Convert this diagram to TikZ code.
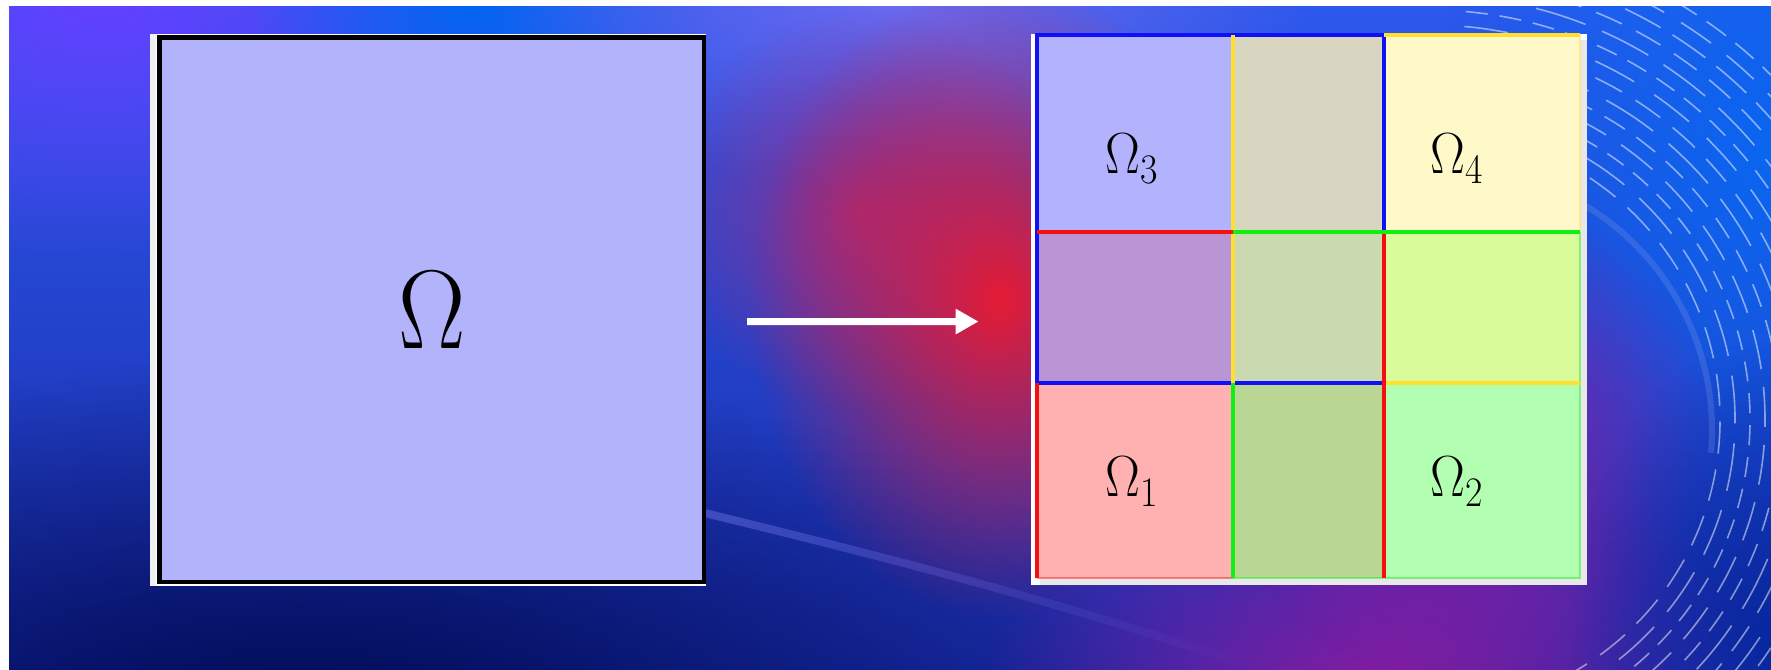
\documentclass[tikz,border=0pt]{standalone}
\usepackage{fontspec}
\usepackage{graphicx, xcolor, tikz}
\usetikzlibrary{arrows.meta,fadings}
\definecolor{bgtop}{HTML}{2C58EC}
\definecolor{bgbot}{HTML}{1A2CA8}
\definecolor{navyglow}{HTML}{000A52}
\definecolor{violetglow}{HTML}{6440FF}
\definecolor{skyglow}{HTML}{0066F2}
\definecolor{lavglow}{HTML}{6C6AF0}
\definecolor{redglow}{HTML}{E41B35}
\definecolor{plumglow}{HTML}{90308C}
\definecolor{purpleglow}{HTML}{8B1CA2}
\definecolor{rightglow}{HTML}{0A66F0}
\definecolor{deepglow}{HTML}{0828A0}
\definecolor{swoosh}{HTML}{8A8CFF}
\definecolor{rimglow}{HTML}{8A9AE8}
\definecolor{domfill}{HTML}{B3B3FC}
\definecolor{cellthree}{HTML}{B3B3FD}
\definecolor{cellthreefour}{HTML}{D8D6C0}
\definecolor{cellfour}{HTML}{FFF8C8}
\definecolor{cellonethree}{HTML}{BA95D6}
\definecolor{cellall}{HTML}{CBD9B0}
\definecolor{celltwofour}{HTML}{D9FB9A}
\definecolor{cellone}{HTML}{FFB1B1}
\definecolor{cellonetwo}{HTML}{B9D694}
\definecolor{celltwo}{HTML}{B3FFB1}
\definecolor{lineblue}{HTML}{1010F5}
\definecolor{linered}{HTML}{F51010}
\definecolor{linegreen}{HTML}{10F010}
\definecolor{lineyellow}{HTML}{FFE030}
\newcommand{\subidx}[1]{\raisebox{-5pt}{\fontsize{21}{22}\selectfont #1}}
\tikzfading[name=softglow, inner color=transparent!0, outer color=transparent!100]
\tikzfading[name=faderight, left color=transparent!0, right color=transparent!100]
\tikzfading[name=fadeband, left color=transparent!100, middle color=transparent!0, right color=transparent!100]
\tikzstyle{glow} = [path fading=softglow]
\tikzstyle{domainbox} = [rectangle, minimum width=272.25pt, minimum height=272.25pt, inner sep=0pt, draw=black, line width=2.25pt, fill=domfill]
\tikzstyle{panel} = [rectangle, minimum width=278pt, minimum height=275.5pt, inner sep=0pt, fill=white]
\tikzstyle{sublabel} = [anchor=base west, inner sep=0pt, font=\fontsize{29}{30}\selectfont]
\tikzstyle{arrow} = [line width=3.5pt, draw=white, -{Triangle[length=11.5pt, width=12pt]}, shorten <=20.4pt, shorten >=26pt]
\tikzstyle{edge} = [line width=1.8pt]
\tikzstyle{faint} = [line width=1pt, opacity=0.45]
\tikzstyle{streak} = [white, opacity=0.5, line width=0.8pt]
\begin{document}
\begin{tikzpicture}[x=0.5pt, y=-0.5pt]
    \useasboundingbox (0,0) rectangle (1771,669);
    \fill[white] (0,0) rectangle (1771,669);
    \begin{scope}
    \clip (9,6) rectangle (1771,669);
    \shade[top color=bgtop, bottom color=bgbot] (9,6) rectangle (1771,669);
    \fill[navyglow, glow] (300,720) ellipse [x radius=900, y radius=360];
    \fill[violetglow, glow] (100,0) ellipse [x radius=450, y radius=260];
    \fill[skyglow, glow] (480,0) ellipse [x radius=230, y radius=130];
    \fill[lavglow, glow] (900,0) ellipse [x radius=420, y radius=190];
    \fill[plumglow, glow] (860,210) ellipse [x radius=210, y radius=200];
    \fill[redglow, glow] (1000,300) ellipse [x radius=250, y radius=320];
    \fill[purpleglow, glow] (1380,700) ellipse [x radius=400, y radius=280];
    \fill[rightglow, glow] (1771,150) ellipse [x radius=340, y radius=460];
    \fill[purpleglow, glow] (1470,440) circle [radius=250];
    \fill[deepglow, glow] (1771,640) ellipse [x radius=200, y radius=300];
    \draw[rimglow, line width=3pt, opacity=0.25] (1450,430) ++(-62:262) arc[start angle=-62, end angle=5, radius=262];
    \fill[navyglow, opacity=0.6, path fading=fadeband] (9,669) -- (150,600) -- (640,500) .. controls (800,540) and (1000,585) .. (1250,669) -- cycle;
    \draw[swoosh, line width=4pt, opacity=0.4, path fading=faderight] (640,497) .. controls (800,537) and (1000,582) .. (1250,666);
    \foreach \r/\on/\off in {290/16/8, 305/24/10, 320/10/6, 335/20/9, 350/12/7, 365/28/10, 380/15/8, 395/22/12, 410/11/6, 425/26/9, 440/14/8, 455/20/7, 470/18/10, 485/12/6}
        \draw[streak, dash pattern=on \on pt off \off pt] (1430,420) ++(-85:\r) arc[start angle=-85, end angle=80, radius=\r];
    \end{scope}
    \fill[gray!12] (150,34) rectangle (706,586);
    \fill[white] (156,34) rectangle (706,586);
    \node (domain) [domainbox] at (431.75,309.75) {\scalebox{0.9}[1]{\fontsize{56}{60}\selectfont Ω}};
    \node (split) [panel] at (1309,309.5) {};
    \fill[gray!18] (1040,40) rectangle (1587,585);
    \fill[cellthree] (1037,35) rectangle (1233,232);
    \fill[cellthreefour] (1233,35) rectangle (1384,232);
    \fill[cellfour] (1384,35) rectangle (1580,232);
    \fill[cellonethree] (1037,232) rectangle (1233,383);
    \fill[cellall] (1233,232) rectangle (1384,383);
    \fill[celltwofour] (1384,232) rectangle (1580,383);
    \fill[cellone] (1037,383) rectangle (1233,578);
    \fill[cellonetwo] (1233,383) rectangle (1384,578);
    \fill[celltwo] (1384,383) rectangle (1580,578);
    \draw[linered, faint] (1037,578) -- (1233,578);
    \draw[linegreen, faint] (1233,578) -- (1580,578) -- (1580,232);
    \draw[lineyellow, faint] (1580,232) -- (1580,35);
    \draw[lineblue, edge] (1384,232) -- (1384,35) -- (1037,35) -- (1037,383) -- (1384,383);
    \draw[lineyellow, edge] (1233,35) -- (1233,383);
    \draw[lineyellow, edge] (1384,35) -- (1580,35);
    \draw[lineyellow, edge] (1384,383) -- (1580,383);
    \draw[linered, edge] (1037,383) -- (1037,578);
    \draw[linered, edge] (1037,232) -- (1233,232);
    \draw[linered, edge] (1384,232) -- (1384,578);
    \draw[linegreen, edge] (1233,232) -- (1580,232);
    \draw[linegreen, edge] (1233,383) -- (1233,578);
    \node (om3) [sublabel] at (1105,173) {\scalebox{0.9}[1]{Ω\subidx{3}}};
    \node (om4) [sublabel] at (1430,173) {\scalebox{0.9}[1]{Ω\subidx{4}}};
    \node (om1) [sublabel] at (1105,496) {\scalebox{0.9}[1]{Ω\subidx{1}}};
    \node (om2) [sublabel] at (1430,496) {\scalebox{0.9}[1]{Ω\subidx{2}}};
    \draw[arrow] ([yshift=-6pt]domain.east) -- ([yshift=-6pt]split.west);
\end{tikzpicture}
\end{document}
